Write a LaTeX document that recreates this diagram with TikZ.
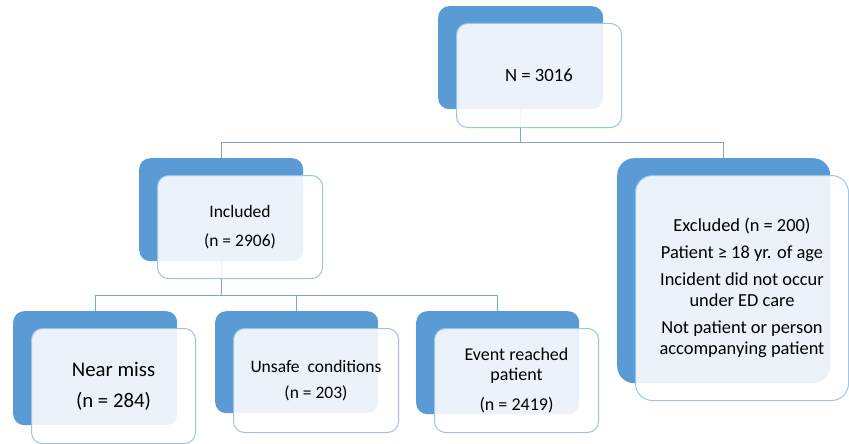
\documentclass[tikz,border=0pt]{standalone}
\usepackage{fontspec}
\setmainfont{Carlito}
\usetikzlibrary{positioning,backgrounds}
\definecolor{boxblue}{RGB}{91,155,213}
\definecolor{edgeblue}{RGB}{157,195,230}
\definecolor{lineblue}{RGB}{125,166,212}
\tikzset{
  backbox/.style={fill=boxblue,rounded corners=11pt,inner sep=0pt,anchor=north west},
  frontbox/.style={draw=edgeblue,line width=1pt,fill=white,fill opacity=.88,
    text opacity=1,rounded corners=11pt,inner sep=0pt,align=center},
  conn/.style={draw=lineblue,line width=.9pt}
}

\begin{document}
\begin{tikzpicture}[
    x=1pt,y=-1pt,
    node distance=17pt and 18pt]
\useasboundingbox (0,0) rectangle (849,444);
\node[backbox,minimum width=165pt,minimum height=103pt] (b0) at (438,6) {};
\node (f0) [frontbox,minimum width=165pt,minimum height=104pt,below right=of b0.north west,
            font=\fontsize{18.7}{22}\selectfont] {N = 3016};
\node[backbox,minimum width=164pt,minimum height=103pt] (b1) at (139,158) {};
\node (f1) [frontbox,minimum width=165pt,minimum height=103pt,below right=of b1.north west,
            font=\fontsize{17.5}{29}\selectfont] {Included\\(n = 2906)};
\node[backbox,rounded corners=17pt,minimum width=213pt,minimum height=225pt] (b2) at (617,158) {};
\node (f2) [frontbox,rounded corners=17pt,minimum width=213pt,minimum height=225pt,
            below right=of b2.north west,font=\fontsize{18.4}{21}\selectfont]
        {Excluded (n = 200)\\[6pt]Patient ≥ 18 yr. of age\\[6pt]Incident did not occur\\under ED care\\[6pt]
         Not patient or person\\accompanying patient};
\node[backbox,minimum width=164pt,minimum height=114pt] (b3) at (13,311) {};
\node (f3) [frontbox,minimum width=164pt,minimum height=115pt,below right=of b3.north west,
            font=\fontsize{20.8}{31}\selectfont] {Near miss\\(n = 284)};
\node[backbox,minimum width=163pt,minimum height=102pt] (b4) at (215,311) {};
\node (f4) [frontbox,minimum width=165pt,minimum height=104pt,below right=of b4.north west,
            font=\fontsize{17.5}{26}\selectfont] {Unsafe\ \ conditions\\(n = 203)};
\node[backbox,minimum width=163pt,minimum height=103pt] (b5) at (416,311) {};
\node (f5) [frontbox,minimum width=164pt,minimum height=104pt,below right=of b5.north west,
            font=\fontsize{18}{20}\selectfont] {Event reached\\patient\\[10pt](n = 2419)};
\begin{scope}[on background layer]
\draw[conn] (b0.south) -- ++(0,33) -| (b1.north);
\draw[conn] (b0.south) -- ++(0,33) -| (b2.north);
\draw[conn] (b1.south) -- ++(0,34) -| (b3.north);
\draw[conn] (b1.south) -- ++(0,34) -| (b4.north);
\draw[conn] (b1.south) -- ++(0,34) -| (b5.north);
\end{scope}
\end{tikzpicture}
\end{document}
